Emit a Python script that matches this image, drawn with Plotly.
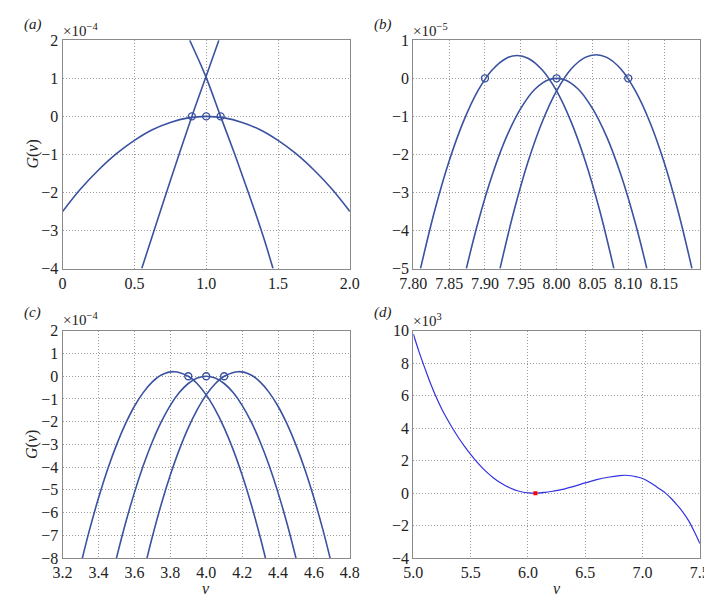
import plotly.graph_objects as go

# ---------- data ----------
# Panel (a), G values in units of 1e-4
a_wide_x = [0.0, 0.125, 0.25, 0.375, 0.5, 0.625, 0.75, 0.875, 1.0,
            1.125, 1.25, 1.375, 1.5, 1.625, 1.75, 1.875, 2.0]
a_wide_y = [-2.5, -1.91, -1.41, -0.98, -0.63, -0.35, -0.16, -0.04, 0.0,
            -0.04, -0.16, -0.35, -0.63, -0.98, -1.41, -1.91, -2.5]
a_rise_x = [0.551, 0.65, 0.75, 0.9, 1.0, 1.088]
a_rise_y = [-4.0, -2.85, -1.69, 0.0, 1.06, 2.0]
a_fall_x = [0.885, 1.0, 1.1, 1.2, 1.3, 1.4, 1.465]
a_fall_y = [2.0, 1.02, 0.0, -1.01, -2.07, -3.19, -4.0]
a_roots = [0.9, 1.0, 1.1]

# Panel (b), units of 1e-5
b1_x = [7.81, 7.83, 7.85, 7.87, 7.89, 7.91, 7.93, 7.945, 7.96, 7.98, 8.00, 8.02, 8.04, 8.06, 8.08]
b1_y = [-5.0, -3.46, -2.17, -1.13, -0.33, 0.22, 0.53, 0.6, 0.53, 0.22, -0.33, -1.13, -2.17, -3.46, -5.0]
b2_x = [7.874, 7.89, 7.91, 7.93, 7.95, 7.97, 7.99, 8.01, 8.03, 8.05, 8.07, 8.09, 8.11, 8.126]
b2_y = [-5.0, -3.81, -2.55, -1.54, -0.79, -0.28, -0.03, -0.03, -0.28, -0.79, -1.54, -2.55, -3.81, -5.0]
b3_x = [7.921, 7.94, 7.96, 7.98, 8.00, 8.02, 8.04, 8.055, 8.07, 8.09, 8.11, 8.13, 8.15, 8.17, 8.189]
b3_y = [-5.0, -3.52, -2.20, -1.14, -0.33, 0.24, 0.55, 0.62, 0.55, 0.24, -0.33, -1.14, -2.20, -3.52, -5.0]
b_roots = [7.90, 8.00, 8.10]

# Panel (c), units of 1e-4
c1_x = [3.31, 3.35, 3.40, 3.45, 3.50, 3.55, 3.60, 3.65, 3.70, 3.75, 3.82,
        3.90, 3.95, 4.00, 4.05, 4.10, 4.15, 4.20, 4.25, 4.30, 4.33]
c1_y = [-8.0, -6.76, -5.36, -4.11, -3.03, -2.10, -1.32, -0.71, -0.25, 0.05, 0.2,
        0.0, -0.33, -0.82, -1.47, -2.27, -3.23, -4.35, -5.62, -7.06, -8.0]
c2_x = [3.50, 3.55, 3.60, 3.65, 3.70, 3.75, 3.80, 3.85, 3.90, 3.95, 4.00,
        4.05, 4.10, 4.15, 4.20, 4.25, 4.30, 4.35, 4.40, 4.45, 4.50]
c2_y = [-8.0, -6.48, -5.12, -3.92, -2.88, -2.0, -1.28, -0.72, -0.32, -0.08, 0.0,
        -0.08, -0.32, -0.72, -1.28, -2.0, -2.88, -3.92, -5.12, -6.48, -8.0]
c3_x = [3.67, 3.70, 3.75, 3.80, 3.85, 3.90, 3.95, 4.00, 4.05, 4.10, 4.18,
        4.25, 4.30, 4.35, 4.40, 4.45, 4.50, 4.55, 4.60, 4.65, 4.69]
c3_y = [-8.0, -7.06, -5.62, -4.35, -3.23, -2.27, -1.47, -0.82, -0.33, 0.0, 0.2,
        0.05, -0.25, -0.71, -1.32, -2.10, -3.03, -4.11, -5.36, -6.76, -8.0]
c_roots = [3.9, 4.0, 4.1]

# Panel (d), units of 1e3
d_x = [5.0, 5.05, 5.1, 5.15, 5.2, 5.25, 5.3, 5.35, 5.4, 5.45, 5.5, 5.55, 5.6, 5.65,
       5.7, 5.75, 5.8, 5.85, 5.9, 5.95, 6.0, 6.065, 6.1, 6.15, 6.2, 6.3, 6.4, 6.5,
       6.6, 6.7, 6.8, 6.85, 6.9, 6.95, 7.0, 7.05, 7.1, 7.15, 7.2, 7.25, 7.3, 7.35,
       7.4, 7.45, 7.5]
d_y = [9.8, 8.7, 7.7, 6.75, 5.9, 5.15, 4.5, 3.9, 3.35, 2.85, 2.38, 1.95, 1.57, 1.23,
       0.93, 0.68, 0.47, 0.3, 0.16, 0.07, 0.02, 0.0, 0.01, 0.05, 0.1, 0.23, 0.42, 0.63,
       0.83, 0.98, 1.08, 1.1, 1.07, 1.0, 0.9, 0.72, 0.5, 0.25, 0.0, -0.33, -0.72, -1.15,
       -1.68, -2.35, -3.1]
d_root = [6.065]

# tick labels
a_xticks = [0, 0.5, 1.0, 1.5, 2.0]
a_xtext = ["0", "0.5", "1.0", "1.5", "2.0"]
b_xticks = [7.80, 7.85, 7.90, 7.95, 8.00, 8.05, 8.10, 8.15, 8.20]
b_xtext = ["7.80", "7.85", "7.90", "7.95", "8.00", "8.05", "8.10", "8.15", ""]
c_xticks = [3.2, 3.4, 3.6, 3.8, 4.0, 4.2, 4.4, 4.6, 4.8]
d_xticks = [5.0, 5.5, 6.0, 6.5, 7.0, 7.5]

# ---------- figure ----------
W, H = 712, 596
LC = "rgb(58,82,160)"
SERIF = "Times New Roman, Liberation Serif, Times, serif"
fig = go.Figure()

def curve(x, y, ax, color=LC, width=1.6):
    fig.add_trace(go.Scatter(x=x, y=y, mode="lines",
                             line=dict(color=color, width=width, shape="spline", smoothing=1.0),
                             xaxis="x" + ax, yaxis="y" + ax, showlegend=False, hoverinfo="skip",
                             cliponaxis=True))

def roots(x, ax):
    fig.add_trace(go.Scatter(x=x, y=[0] * len(x), mode="markers",
                             marker=dict(symbol="circle-open", size=7, color=LC, line=dict(width=1.4, color=LC)),
                             xaxis="x" + ax, yaxis="y" + ax, showlegend=False, hoverinfo="skip"))

curve(a_wide_x, a_wide_y, "")
curve(a_rise_x, a_rise_y, "")
curve(a_fall_x, a_fall_y, "")
roots(a_roots, "")
curve(b1_x, b1_y, "2")
curve(b2_x, b2_y, "2")
curve(b3_x, b3_y, "2")
roots(b_roots, "2")
curve(c1_x, c1_y, "3")
curve(c2_x, c2_y, "3")
curve(c3_x, c3_y, "3")
roots(c_roots, "3")
curve(d_x, d_y, "4", color="rgb(50,50,225)", width=1.2)
fig.add_trace(go.Scatter(x=d_root, y=[0], mode="markers",
                         marker=dict(symbol="square", size=4, color="red"),
                         xaxis="x4", yaxis="y4", showlegend=False, hoverinfo="skip"))

FONT = dict(family=SERIF, size=16, color="#222")
common = dict(showline=True, linecolor="#8a8a8a", linewidth=1.2, mirror=True,
              showgrid=True, gridcolor="#9a9a9a", gridwidth=1, griddash="1px,2px",
              zeroline=False, ticks="", tickfont=FONT, fixedrange=True,
              ticklabeloverflow="allow")

def px_dom_x(l, r):
    return [l / W, r / W]

def px_dom_y(t, b):
    return [1 - b / H, 1 - t / H]

xa, xb = px_dom_x(42, 339.3), px_dom_x(405, 701.5)
ytop, ybot = px_dom_y(25, 260), px_dom_y(324, 558)

fig.update_layout(
    width=W, height=H, autosize=False,
    margin=dict(l=0, r=0, t=0, b=0),
    paper_bgcolor="white", plot_bgcolor="white",
    font=FONT,
    xaxis=dict(common, domain=xa, anchor="y", range=[0, 2], tickvals=a_xticks, ticktext=a_xtext),
    yaxis=dict(common, domain=ytop, anchor="x", range=[-4, 2], dtick=1),
    xaxis2=dict(common, domain=xb, anchor="y2", range=[7.8, 8.2], tickvals=b_xticks, ticktext=b_xtext),
    yaxis2=dict(common, domain=ytop, anchor="x2", range=[-5, 1], dtick=1),
    xaxis3=dict(common, domain=xa, anchor="y3", range=[3.2, 4.8], tickvals=c_xticks, tickformat=".1f"),
    yaxis3=dict(common, domain=ybot, anchor="x3", range=[-8, 2], dtick=1),
    xaxis4=dict(common, domain=xb, anchor="y4", range=[5.0, 7.5], tickvals=d_xticks, tickformat=".1f"),
    yaxis4=dict(common, domain=ybot, anchor="x4", range=[-4, 10], dtick=2),
)

def ann(text, x, y, size=15, xanchor="left", yanchor="middle", angle=0):
    fig.add_annotation(text=text, x=x / W, y=1 - y / H, xref="paper", yref="paper",
                       showarrow=False, xanchor=xanchor, yanchor=yanchor, textangle=angle,
                       font=dict(family=SERIF, size=size, color="#222"))

ann("<i>(a)</i>", 0, 9, size=15)
ann("<i>(b)</i>", 362, 9, size=15)
ann("<i>(c)</i>", 0, 305, size=15)
ann("<i>(d)</i>", 362, 305, size=15)
ann("×10<sup>−4</sup>", 40, 14, size=15)
ann("×10<sup>−5</sup>", 403, 14, size=15)
ann("×10<sup>−4</sup>", 40, 312, size=15)
ann("×10<sup>3</sup>", 403, 313, size=15)
ann("<i>G</i>(<i>v</i>)", 11, 142, size=16, xanchor="center", angle=-90)
ann("<i>G</i>(<i>v</i>)", 11, 441, size=16, xanchor="center", angle=-90)
ann("<i>v</i>", 190, 589, size=16, xanchor="center")
ann("<i>v</i>", 554, 589, size=16, xanchor="center")

fig.write_html("out.html")
